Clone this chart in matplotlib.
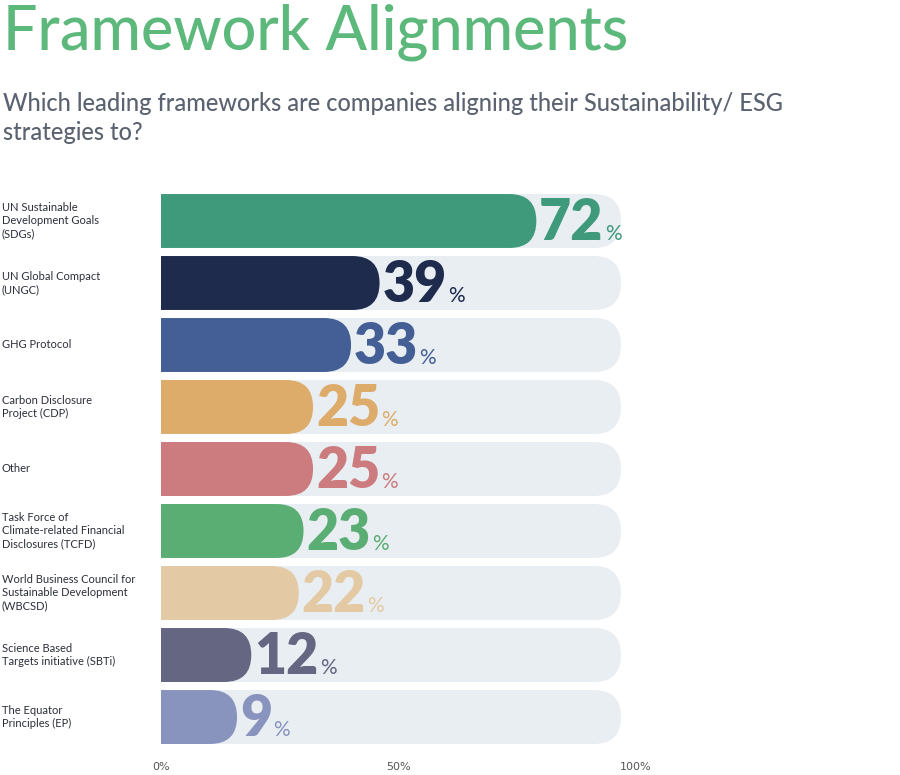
import matplotlib
matplotlib.use("Agg")
import matplotlib.pyplot as plt
from matplotlib.patches import FancyBboxPatch

labels = ["UN Sustainable\nDevelopment Goals\n(SDGs)", "UN Global Compact\n(UNGC)", "GHG Protocol",
          "Carbon Disclosure\nProject (CDP)", "Other", "Task Force of\nClimate-related Financial\nDisclosures (TCFD)",
          "World Business Council for\nSustainable Development\n(WBCSD)", "Science Based\nTargets initiative (SBTi)",
          "The Equator\nPrinciples (EP)"]
values = [72, 39, 33, 25, 25, 23, 22, 12, 9]
colors = ["#3e9a7b", "#1f2b4d", "#445f95", "#ddac6b", "#cc7b7f", "#5aae74", "#e3caa4", "#646682", "#8893be"]
ticks = [0, 50, 100]
tick_labels = ["0%", "50%", "100%"]

fig = plt.figure(figsize=(9, 7.75), dpi=100)
ax = fig.add_axes([161/900, 27/775, 487/900, 558/775])
ax.set_xlim(0, 102.5)
ax.set_ylim(len(values) - 0.5, -0.5)
h = 0.87
r = 5.68
asp = (h/2) / r
cap = 7
for i, (v, c) in enumerate(zip(values, colors)):
    bg = FancyBboxPatch((-r, i - h/2), 102.5, h, boxstyle=f"round,pad=0,rounding_size={r}",
                        mutation_aspect=asp, fc="#e9eef2", ec="none")
    ax.add_patch(bg)
    end = v + cap
    fg = FancyBboxPatch((-r, i - h/2), end + r, h, boxstyle=f"round,pad=0,rounding_size={r}",
                        mutation_aspect=asp, fc=c, ec="none")
    ax.add_patch(fg)
    t = ax.text(end + 0.6, i + 0.03, str(v), color=c, fontsize=40, fontweight="black",
                fontfamily="Lato", va="center", ha="left")
    fig.canvas.draw()
    bb = t.get_window_extent().transformed(ax.transData.inverted())
    ax.text(bb.x1 + 0.3, i + 0.3, "%", color=c, fontsize=15, fontfamily="Lato", va="baseline", ha="left")
    fig.text(2/900, 1 - (190 + 31 + i*62)/775, labels[i], fontsize=8, color="#2b2f3a",
             va="center", ha="left", fontfamily="Lato", linespacing=1.25)

ax.set_xticks(ticks)
ax.set_xticklabels(tick_labels, fontsize=8, color="#555")
ax.tick_params(length=0, pad=10)
ax.set_yticks([])
for s in ax.spines.values():
    s.set_visible(False)

fig.text(3/900, 1 - 32/775, "Framework Alignments", fontsize=44, color="#5cb87b",
         fontfamily="Lato", fontweight="medium", va="center")
fig.text(3/900, 1 - 118/775, "Which leading frameworks are companies aligning their Sustainability/ ESG\nstrategies to?",
         fontsize=17, color="#5b6270", fontfamily="Lato", fontweight="medium", va="center", linespacing=1.35)
fig.savefig("out.png", dpi=100, facecolor="white")
